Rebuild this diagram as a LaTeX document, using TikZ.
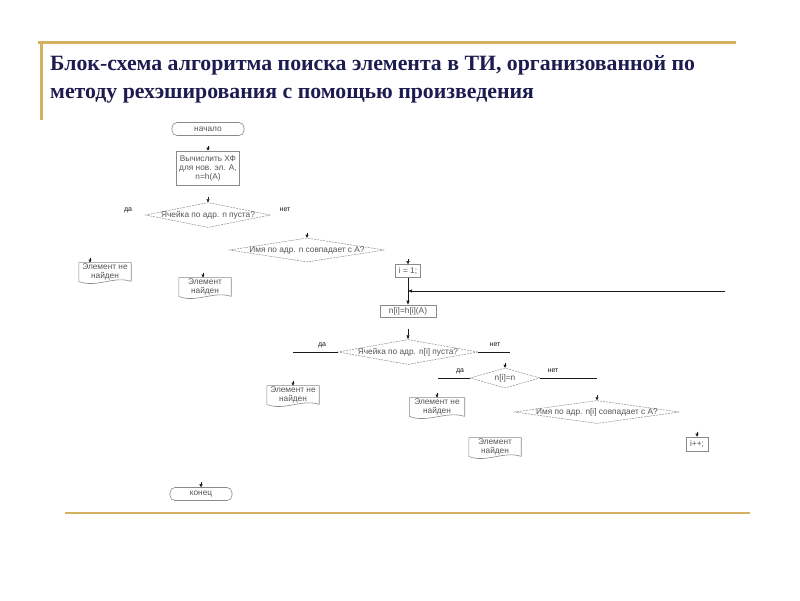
\documentclass[tikz,border=0pt]{standalone}
\usepackage{fontspec}
\setmainfont{Liberation Sans}
\newfontfamily\titulo{Liberation Serif}
\usetikzlibrary{arrows.meta,calc,shapes.geometric}
\definecolor{dorado}{HTML}{D4B15F}
\definecolor{marino}{HTML}{1C1C50}
\definecolor{tinta}{HTML}{1A1A1A}
\definecolor{borde}{HTML}{8A8A8A}
\definecolor{texto}{HTML}{555555}
\tikzset{
  chico/.style={font=\fontsize{8.3}{9}\selectfont,text=texto},
  caja/.style={rectangle,draw=borde,line width=0.6pt,fill=white,inner sep=1pt,align=center,chico},
  inicio/.style={caja,rounded corners=5pt},
  documento/.style={rectangle,inner sep=1pt,align=center,minimum width=52,minimum height=18,chico},
  hoja/.style={draw=borde,line width=0.6pt},
  rombo/.style={diamond,draw=borde,dash pattern=on 2pt off 1pt,line width=0.5pt,inner sep=0pt,label={[chico]center:#1}},
  etiq/.style={font=\fontsize{7}{8}\selectfont,text=tinta,inner sep=1pt},
  linea/.style={draw=tinta,line width=0.6pt},
  flecha/.style={linea,-{Triangle[length=4pt,width=3pt]}},
  punta/.style={draw=tinta,line width=0.4pt,-{Triangle[length=3pt,width=3pt]}},
}
\begin{document}
\begin{tikzpicture}[x=1pt,y=-1pt]
\fill[white] (0,0) rectangle (800,600);
\useasboundingbox (0,0) rectangle (800,600);
% marco
\draw[dorado,line width=3pt] (38,42) -- (736,42);
\draw[dorado,line width=3pt] (41,40.5) -- (41,120);
\draw[dorado,line width=2pt] (65,513) -- (750,513);
\node[anchor=north west,align=left,inner sep=0pt,text=marino,font=\titulo\bfseries\fontsize{21.8}{28}\selectfont] (tit) at (50,55)
  {Блок-схема алгоритма поиска элемента в ТИ, организованной по\\методу рехэширования с помощью произведения};
% bloques
\node[inicio,minimum width=72,minimum height=13] (ini) at (208,129) {начало};
\node[caja,minimum width=63,minimum height=34] (hf) at (208,168) {Вычислить ХФ\\для нов. эл. А,\\n=h(A)};
\node[rombo={Ячейка по адр. n пуста?},minimum width=125,minimum height=25] (p1) at (208,215) {};
\node[etiq] (si1) at (128,210) {да};
\node[etiq] (no1) at (285,210) {нет};
\node[rombo={Имя по адр. n совпадает с А?},minimum width=155,minimum height=24] (p2) at (307,250) {};
\node[documento] (ne1) at (105,272) {Элемент не\\найден};
\node[documento] (en1) at (205,287) {Элемент\\найден};
\node[caja,minimum width=25,minimum height=13] (uno) at (408,271) {i = 1;};
\node[caja,minimum width=56,minimum height=12] (hi) at (408,311) {n[i]=h[i](A)};
\node[rombo={Ячейка по адр. n[i] пуста?},minimum width=140,minimum height=25] (p3) at (408,352) {};
\node[etiq] (si3) at (322,345) {да};
\node[etiq] (no3) at (495,345) {нет};
\node[documento] (ne2) at (293,395) {Элемент не\\найден};
\node[rombo={n[i]=n},minimum width=70,minimum height=20] (p4) at (505,378) {};
\node[etiq] (si4) at (460,371) {да};
\node[etiq] (no4) at (553,371) {нет};
\node[documento,minimum width=55] (ne3) at (437,407) {Элемент не\\найден};
\node[rombo={Имя по адр. n[i] совпадает с А?},minimum width=165,minimum height=23] (p5) at (597,412) {};
\node[documento] (en2) at (495,447) {Элемент\\найден};
\node[caja,minimum width=22,minimum height=14] (inc) at (697,444) {i++;};
\node[inicio,minimum width=62,minimum height=13] (fin) at (201,494) {конец};
% hojas
\foreach \d in {ne1,en1,ne2,ne3,en2}
  \draw[hoja] (\d.south east) -- (\d.north east) -- (\d.north west) -- (\d.south west)
    .. controls ($(\d.south)+(-9,7)$) and ($(\d.south)+(9,-6)$) .. (\d.south east);
% conexiones
\coordinate (ret) at (725,291);
\coordinate (union) at (uno.south |- ret);
\coordinate (ent3) at (408,329);
\coordinate (izq3) at (293,352);
\coordinate (der3) at (510,352);
\coordinate (izq4) at (438,378);
\coordinate (der4) at (597,378);
\draw[flecha] (uno) -- (hi);
\draw[flecha] (ret) -- (union);
\draw[flecha] (ent3) -- (p3);
\draw[linea] (p3.west) -- (izq3);
\draw[linea] (p3.east) -- (der3);
\draw[linea] (p4.west) -- (izq4);
\draw[linea] (p4.east) -- (der4);
% puntas sueltas
\foreach \n/\dx in {hf/0,p1/0,p2/0,ne1/-15,en1/-2,uno/0,ne2/0,ne3/0,p4/0,p5/0,inc/0,fin/0}
  \draw[punta] ([xshift=\dx pt,yshift=5pt]\n.north) -- ([xshift=\dx pt]\n.north);
\end{tikzpicture}
\end{document}
